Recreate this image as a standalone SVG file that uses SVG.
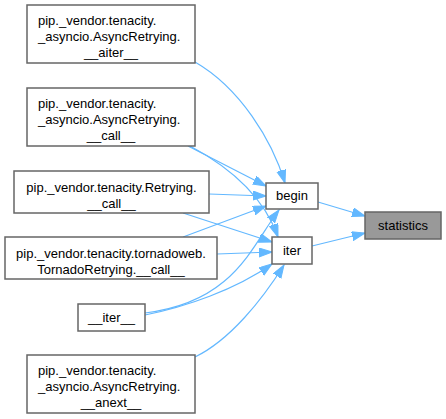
<svg xmlns="http://www.w3.org/2000/svg" width="446" height="419" viewBox="0 0 446 419">
<style>
.box{fill:#ffffff;stroke:#666666;stroke-width:1.5}
.hl{fill:#999999;stroke:#666666;stroke-width:1.5}
text{font-family:"Liberation Sans",Arial,sans-serif;font-size:13px;fill:#000000}
.c{text-anchor:middle}
.e{fill:none;stroke:#63b8ff;stroke-width:1.2;marker-end:url(#ah)}
</style>
<defs>
<marker id="ah" markerUnits="userSpaceOnUse" markerWidth="14" markerHeight="10" refX="13" refY="4.5" orient="auto">
<path d="M0,0 L13,4.5 L0,9 z" fill="#63b8ff" stroke="#63b8ff" stroke-width="1"/>
</marker>
</defs>
<rect width="446" height="419" fill="#ffffff"/>
<g id="connectors">
<path class="e" d="M195,62 C240,88 272,140 285,183"/>
<path class="e" d="M188,146 L266,186"/>
<path class="e" d="M190,146 C235,170 265,200 278,237"/>
<path class="e" d="M209,194 L266,196"/>
<path class="e" d="M183,213 L272,242"/>
<path class="e" d="M183,237 L266,206"/>
<path class="e" d="M217,254 L272,252"/>
<path class="e" d="M145,313 C235,302 252,245 279,210"/>
<path class="e" d="M145,315 C185,307 235,290 272,264"/>
<path class="e" d="M195,357 C230,340 262,300 284,265"/>
<path class="e" d="M318,202 L365,216"/>
<path class="e" d="M312,246 L365,233"/>
</g>
<g id="node_aiter">
<rect class="box" x="27" y="5" width="168" height="58"/>
<text x="38" y="24.5">pip._vendor.tenacity.</text>
<text x="38" y="40.5">_asyncio.AsyncRetrying.</text>
<text class="c" x="111" y="56.5">__aiter__</text>
</g>
<g id="node_async_call">
<rect class="box" x="27" y="88" width="168" height="58"/>
<text x="38" y="107.5">pip._vendor.tenacity.</text>
<text x="38" y="123.5">_asyncio.AsyncRetrying.</text>
<text class="c" x="111" y="139.5">__call__</text>
</g>
<g id="node_retrying_call">
<rect class="box" x="14" y="171" width="195" height="42"/>
<text class="c" x="111.5" y="192">pip._vendor.tenacity.Retrying.</text>
<text class="c" x="111.5" y="207.5">__call__</text>
</g>
<g id="node_tornado_call">
<rect class="box" x="5" y="237" width="212" height="42"/>
<text class="c" x="111" y="258">pip._vendor.tenacity.tornadoweb.</text>
<text class="c" x="111" y="273.5">TornadoRetrying.__call__</text>
</g>
<g id="node_iter_dunder">
<rect class="box" x="78" y="304" width="67" height="27"/>
<text class="c" x="111.5" y="322">__iter__</text>
</g>
<g id="node_anext">
<rect class="box" x="27" y="355" width="168" height="58"/>
<text x="38" y="374.5">pip._vendor.tenacity.</text>
<text x="38" y="390.5">_asyncio.AsyncRetrying.</text>
<text class="c" x="111" y="406.5">__anext__</text>
</g>
<g id="node_begin">
<rect class="box" x="266" y="183" width="52" height="26"/>
<text class="c" x="292" y="200">begin</text>
</g>
<g id="node_iter">
<rect class="box" x="272" y="237" width="40" height="27"/>
<text class="c" x="292" y="255">iter</text>
</g>
<g id="node_statistics">
<rect class="hl" x="365" y="212" width="76" height="27"/>
<text class="c" x="403" y="230">statistics</text>
</g>
</svg>
